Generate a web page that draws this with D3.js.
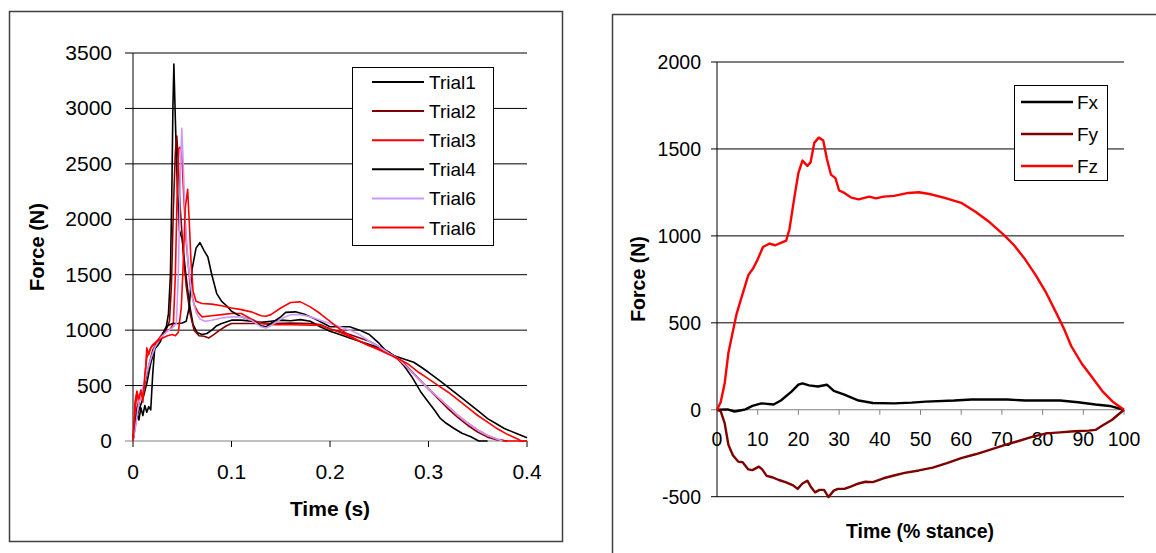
<!DOCTYPE html>
<html>
<head>
<meta charset="utf-8">
<script src="https://cdnjs.cloudflare.com/ajax/libs/d3/7.8.5/d3.min.js"></script>
<style>
  body { margin: 0; background: #fff; }
  svg { display: block; }
  text { font-family: "Liberation Sans", Arial, sans-serif; fill: #000; }
</style>
</head>
<body>
<svg id="chart" width="1156" height="553"></svg>
<script>
// ---- left chart: force vs time, six trials [time (s), force (N)]
var trial1 = [[0,0],[0.003,180],[0.006,280],[0.01,380],[0.014,520],[0.018,700],[0.022,830],[0.026,900],[0.03,960],[0.034,1040],[0.036,1150],[0.038,1500],[0.0395,2300],[0.0405,3000],[0.0415,3400],[0.043,2900],[0.045,2300],[0.047,1900],[0.05,1820],[0.053,1550],[0.057,1250],[0.061,1050],[0.065,980],[0.07,960],[0.075,970],[0.08,1000],[0.085,1040],[0.09,1060],[0.1,1090],[0.11,1090],[0.12,1080],[0.13,1070],[0.14,1080],[0.15,1090],[0.16,1085],[0.17,1095],[0.18,1080],[0.19,1030],[0.2,990],[0.21,960],[0.22,930],[0.23,900],[0.24,870],[0.25,840],[0.26,800],[0.268,750],[0.275,680],[0.283,580],[0.292,445],[0.3,350],[0.306,280],[0.312,203],[0.318,160],[0.326,113],[0.334,70],[0.343,38],[0.351,0],[0.36,0]];
var trial2 = [[0,0],[0.004,300],[0.008,420],[0.012,520],[0.016,680],[0.02,820],[0.025,900],[0.03,970],[0.034,1010],[0.037,1080],[0.039,1400],[0.041,2100],[0.043,2600],[0.0445,2750],[0.046,2500],[0.048,2100],[0.051,1700],[0.054,1400],[0.058,1150],[0.062,1000],[0.067,950],[0.072,945],[0.077,930],[0.082,960],[0.088,1000],[0.095,1040],[0.1,1060],[0.12,1060],[0.14,1060],[0.16,1065],[0.18,1060],[0.19,1050],[0.2,1010],[0.22,960],[0.24,900],[0.26,800],[0.275,700],[0.29,560],[0.3,470],[0.31,380],[0.32,290],[0.33,210],[0.34,140],[0.35,80],[0.36,35],[0.37,10],[0.38,0]];
var trial3 = [[0,0],[0.002,350],[0.004,450],[0.006,330],[0.008,450],[0.01,400],[0.012,520],[0.014,840],[0.016,780],[0.018,840],[0.022,880],[0.026,920],[0.03,960],[0.034,990],[0.038,1010],[0.041,1060],[0.043,1500],[0.045,2300],[0.0465,2640],[0.048,2650],[0.0495,2620],[0.051,2300],[0.054,1800],[0.058,1400],[0.062,1230],[0.066,1160],[0.07,1120],[0.08,1130],[0.09,1140],[0.1,1150],[0.11,1150],[0.12,1100],[0.13,1060],[0.14,1050],[0.16,1048],[0.18,1045],[0.19,1045],[0.2,1010],[0.21,980],[0.22,940],[0.23,900],[0.24,860],[0.25,830],[0.26,790],[0.27,730],[0.28,650],[0.29,560],[0.3,470],[0.31,390],[0.32,310],[0.33,230],[0.34,160],[0.35,100],[0.36,50],[0.37,15],[0.378,0],[0.4,0]];
var trial4 = [[0,0],[0.002,200],[0.004,250],[0.006,190],[0.008,300],[0.01,230],[0.012,320],[0.014,260],[0.016,310],[0.018,280],[0.02,600],[0.022,830],[0.025,860],[0.028,900],[0.031,980],[0.035,1040],[0.04,1060],[0.045,1060],[0.05,1065],[0.054,1080],[0.057,1200],[0.06,1550],[0.064,1740],[0.068,1790],[0.072,1720],[0.076,1660],[0.08,1500],[0.085,1330],[0.09,1260],[0.095,1220],[0.1,1170],[0.11,1120],[0.12,1090],[0.13,1040],[0.135,1030],[0.14,1060],[0.15,1120],[0.155,1160],[0.165,1165],[0.175,1140],[0.185,1100],[0.2,1030],[0.21,1030],[0.22,1030],[0.23,1000],[0.24,960],[0.25,880],[0.258,800],[0.265,770],[0.275,740],[0.285,710],[0.292,670],[0.3,620],[0.312,540],[0.326,444],[0.335,380],[0.343,323],[0.352,260],[0.36,202],[0.368,160],[0.377,113],[0.39,65],[0.4,30]];
var trial6a = [[0,0],[0.003,150],[0.006,350],[0.01,480],[0.014,620],[0.018,740],[0.022,840],[0.026,900],[0.03,950],[0.035,990],[0.04,1020],[0.044,1060],[0.046,1500],[0.048,2400],[0.0495,2820],[0.051,2500],[0.053,2000],[0.056,1600],[0.06,1300],[0.064,1160],[0.068,1100],[0.073,1080],[0.08,1090],[0.09,1110],[0.1,1120],[0.11,1120],[0.12,1090],[0.13,1030],[0.135,1020],[0.14,1040],[0.15,1100],[0.16,1140],[0.17,1140],[0.18,1120],[0.19,1090],[0.2,1060],[0.21,1030],[0.22,1000],[0.23,960],[0.24,900],[0.25,850],[0.26,790],[0.27,740],[0.28,650],[0.29,560],[0.3,470],[0.31,390],[0.32,310],[0.33,230],[0.34,160],[0.35,100],[0.36,50],[0.37,15],[0.375,0]];
var trial6b = [[0,0],[0.002,250],[0.004,440],[0.006,380],[0.008,460],[0.01,350],[0.012,600],[0.014,750],[0.017,820],[0.02,870],[0.025,900],[0.03,930],[0.035,950],[0.04,960],[0.043,950],[0.046,980],[0.049,1200],[0.051,1600],[0.053,2100],[0.0555,2270],[0.057,2000],[0.059,1600],[0.061,1350],[0.064,1260],[0.07,1240],[0.08,1235],[0.09,1220],[0.1,1200],[0.11,1185],[0.12,1165],[0.13,1130],[0.135,1125],[0.14,1140],[0.15,1200],[0.16,1250],[0.17,1255],[0.18,1210],[0.19,1150],[0.2,1080],[0.21,1010],[0.22,950],[0.23,900],[0.24,860],[0.25,820],[0.26,780],[0.27,740],[0.28,690],[0.29,620],[0.3,560],[0.31,500],[0.32,440],[0.33,370],[0.34,300],[0.35,230],[0.36,170],[0.37,110],[0.38,60],[0.39,20],[0.394,0],[0.4,0]];

var trialNames = ["Trial1", "Trial2", "Trial3", "Trial4", "Trial6", "Trial6"];
var trialColors = ["#000000", "#800000", "#ff0000", "#000000", "#cc99ff", "#ff0000"];
var trialData = [trial1, trial2, trial3, trial4, trial6a, trial6b];
var leftYTicks = [0, 500, 1000, 1500, 2000, 2500, 3000, 3500];
var leftXTicks = [0, 0.1, 0.2, 0.3, 0.4];

// ---- right chart: force components vs % stance [percent, force (N)]
var fx = [[0,0],[2.6,2],[4.3,-10],[5.7,-4],[7,2],[8.7,22],[10.9,37],[13.9,30],[15.7,53],[18.3,104],[20,144],[21,152],[22.6,140],[24.8,134],[27,144],[28.7,108],[31.3,87],[34.8,53],[38.3,39],[43.5,37],[47.8,41],[51.3,47],[58.3,53],[62.6,59],[71.3,59],[75.7,53],[84.3,53],[88.7,43],[93,30],[96.5,22],[100,0]];
var fy = [[0,0],[0.9,-8],[1.9,-79],[2.8,-201],[3.9,-262],[5.2,-298],[6.3,-302],[7.7,-343],[8.7,-347],[10.3,-327],[11.1,-343],[12.2,-380],[13.5,-388],[15.2,-404],[17,-418],[18.7,-435],[19.8,-455],[21,-424],[22.2,-408],[23,-441],[24.1,-475],[25.2,-461],[26.3,-461],[27.4,-502],[28.7,-465],[29.7,-455],[31.3,-455],[33,-441],[34.8,-424],[36.5,-414],[38.3,-416],[40.9,-394],[43.5,-378],[46.1,-363],[49.6,-349],[53,-333],[56.5,-307],[60,-278],[63.5,-256],[67,-231],[70.4,-205],[73.9,-181],[77.4,-156],[80.9,-136],[84.3,-130],[87.8,-124],[91.3,-120],[93,-116],[94.8,-89],[97,-59],[100,0]];
var fz = [[0,0],[0.9,43],[1.9,154],[2.8,327],[3.7,428],[4.8,550],[6.1,652],[7.7,774],[8.9,814],[10,865],[11.3,936],[12.9,956],[14.3,946],[15.7,960],[17,973],[17.8,1038],[19,1220],[20,1362],[21,1433],[22.2,1403],[23,1423],[23.9,1535],[25,1565],[26.1,1549],[27,1444],[28,1352],[29.1,1332],[30,1261],[31.3,1247],[33,1220],[34.8,1210],[37.4,1226],[39.1,1216],[40.9,1226],[43.5,1230],[47,1247],[49.6,1251],[52.2,1241],[55.7,1220],[60,1190],[63.5,1139],[67,1078],[70.4,1007],[73,946],[75.7,865],[78.3,774],[80.9,672],[83.5,550],[85.2,469],[87,368],[89.6,266],[92.2,185],[94.8,104],[97.4,43],[100,0]];

var compNames = ["Fx", "Fy", "Fz"];
var compColors = ["#000000", "#800000", "#ff0000"];
var compData = [fx, fy, fz];
var rightYTicks = [-500, 0, 500, 1000, 1500, 2000];
var rightXTicks = [0, 10, 20, 30, 40, 50, 60, 70, 80, 90, 100];

var svg = d3.select("#chart");

// ================= left chart =================
svg.append("rect")
  .attr("x", 9.5).attr("y", 11.5).attr("width", 553).attr("height", 530)
  .attr("fill", "#fff").attr("stroke", "#404040").attr("stroke-width", 1.5);

var xL = d3.scaleLinear().domain([0, 0.4]).range([133, 527]);
var yL = d3.scaleLinear().domain([0, 3500]).range([441, 53]);

var gL = svg.append("g");

// gridlines (extend left past the axis as tick marks)
gL.selectAll(".gridL").data(leftYTicks).enter().append("line")
  .attr("x1", 125).attr("x2", xL(0.4))
  .attr("y1", d => yL(d)).attr("y2", d => yL(d))
  .attr("stroke", d => d === 0 ? "#808080" : "#000").attr("stroke-width", 1);

gL.append("line")
  .attr("x1", xL(0)).attr("x2", xL(0)).attr("y1", yL(0)).attr("y2", yL(3500))
  .attr("stroke", "#000").attr("stroke-width", 1);

gL.selectAll(".xtickL").data(leftXTicks).enter().append("line")
  .attr("x1", d => xL(d)).attr("x2", d => xL(d))
  .attr("y1", yL(0)).attr("y2", yL(0) + 6)
  .attr("stroke", "#000").attr("stroke-width", 1);

gL.selectAll(".ylabL").data(leftYTicks).enter().append("text")
  .attr("x", 112).attr("y", d => yL(d) + 7)
  .attr("text-anchor", "end").attr("font-size", 21)
  .text(d => d);

gL.selectAll(".xlabL").data(leftXTicks).enter().append("text")
  .attr("x", d => xL(d)).attr("y", 479)
  .attr("text-anchor", "middle").attr("font-size", 21)
  .text(d => d);

gL.append("text")
  .attr("x", 330).attr("y", 516)
  .attr("text-anchor", "middle").attr("font-size", 21).attr("font-weight", "bold")
  .text("Time (s)");

gL.append("text")
  .attr("transform", "translate(44,247) rotate(-90)")
  .attr("text-anchor", "middle").attr("font-size", 20).attr("font-weight", "bold")
  .text("Force (N)");

var lineL = d3.line().x(d => xL(d[0])).y(d => yL(d[1]));
gL.selectAll(".trial").data(trialData).enter().append("path")
  .attr("d", lineL)
  .attr("fill", "none")
  .attr("stroke", (d, i) => trialColors[i])
  .attr("stroke-width", 1.6)
  .attr("stroke-linejoin", "round");

// legend
var legL = gL.append("g");
legL.append("rect")
  .attr("x", 352.5).attr("y", 67.5).attr("width", 141).attr("height", 178)
  .attr("fill", "#fff").attr("stroke", "#000").attr("stroke-width", 1);
trialNames.forEach(function(name, i) {
  var cy = 82 + i * 29.1;
  legL.append("line")
    .attr("x1", 372).attr("x2", 424).attr("y1", cy).attr("y2", cy)
    .attr("stroke", trialColors[i]).attr("stroke-width", 2);
  legL.append("text")
    .attr("x", 429).attr("y", cy + 7).attr("font-size", 19)
    .text(name);
});

// ================= right chart =================
svg.append("rect")
  .attr("x", 612.5).attr("y", 14.5).attr("width", 600).attr("height", 600)
  .attr("fill", "#fff").attr("stroke", "#404040").attr("stroke-width", 1.5);

var xR = d3.scaleLinear().domain([0, 100]).range([717, 1124]);
var yR = d3.scaleLinear().domain([-500, 2000]).range([496.7, 62]);

var gR = svg.append("g");

gR.selectAll(".gridR").data(rightYTicks).enter().append("line")
  .attr("x1", 711).attr("x2", xR(100))
  .attr("y1", d => yR(d)).attr("y2", d => yR(d))
  .attr("stroke", d => d === 0 ? "#808080" : "#000").attr("stroke-width", 1);

gR.append("line")
  .attr("x1", xR(0)).attr("x2", xR(0)).attr("y1", yR(-500)).attr("y2", yR(2000))
  .attr("stroke", "#000").attr("stroke-width", 1);

gR.selectAll(".xtickR").data(rightXTicks).enter().append("line")
  .attr("x1", d => xR(d)).attr("x2", d => xR(d))
  .attr("y1", yR(0)).attr("y2", yR(0) + 5)
  .attr("stroke", "#808080").attr("stroke-width", 1);

gR.selectAll(".ylabR").data(rightYTicks).enter().append("text")
  .attr("x", 701).attr("y", d => yR(d) + 7)
  .attr("text-anchor", "end").attr("font-size", 19.5)
  .text(d => d);

gR.selectAll(".xlabR").data(rightXTicks).enter().append("text")
  .attr("x", d => xR(d)).attr("y", 446)
  .attr("text-anchor", "middle").attr("font-size", 19.5)
  .text(d => d);

gR.append("text")
  .attr("x", 920).attr("y", 538)
  .attr("text-anchor", "middle").attr("font-size", 19.5).attr("font-weight", "bold")
  .text("Time (% stance)");

gR.append("text")
  .attr("transform", "translate(645,279) rotate(-90)")
  .attr("text-anchor", "middle").attr("font-size", 19.5).attr("font-weight", "bold")
  .text("Force (N)");

var lineR = d3.line().x(d => xR(d[0])).y(d => yR(d[1]));
gR.selectAll(".comp").data(compData).enter().append("path")
  .attr("d", lineR)
  .attr("fill", "none")
  .attr("stroke", (d, i) => compColors[i])
  .attr("stroke-width", 2.4)
  .attr("stroke-linejoin", "round");

var legR = gR.append("g");
legR.append("rect")
  .attr("x", 1014.5).attr("y", 85.5).attr("width", 93).attr("height", 95)
  .attr("fill", "#fff").attr("stroke", "#000").attr("stroke-width", 1);
compNames.forEach(function(name, i) {
  var cy = 102 + i * 32;
  legR.append("line")
    .attr("x1", 1021).attr("x2", 1073).attr("y1", cy).attr("y2", cy)
    .attr("stroke", compColors[i]).attr("stroke-width", 2.4);
  legR.append("text")
    .attr("x", 1077).attr("y", cy + 7).attr("font-size", 19)
    .text(name);
});
</script>
</body>
</html>
